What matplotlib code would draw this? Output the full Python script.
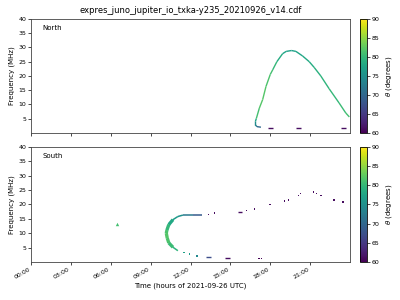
import numpy as np
import matplotlib
matplotlib.use('Agg')
import matplotlib.pyplot as plt
from matplotlib.collections import LineCollection
from matplotlib.cm import ScalarMappable
from matplotlib.colors import Normalize

# time in hours of the day, frequency in MHz, theta in degrees
north_hours = [17.30, 17.00, 16.88, 16.88, 16.95, 17.18, 17.43, 17.68, 18.00, 18.18, 18.50,
               18.93, 19.20, 19.60, 19.93, 20.43, 20.93, 21.30, 21.80, 22.43, 23.18, 23.68, 23.95]
north_freq = [2.0, 2.2, 2.8, 4.0, 5.0, 8.7, 11.7, 16.3, 20.5, 22.1, 25.0,
              27.8, 28.6, 28.9, 28.6, 27.0, 25.0, 23.0, 20.0, 15.5, 10.5, 7.0, 5.6]
north_theta = [69, 71, 74, 75, 80, 82, 82, 82, 81, 81, 79,
               78, 77, 77, 77, 78, 78, 79, 79, 80, 80, 81, 81]

north_dash_start = [17.80, 19.93, 23.35]
north_dash_end = [18.18, 20.30, 23.73]
north_dash_freq = [1.75, 1.75, 1.75]
north_dash_theta = [61, 61, 61]

south_hours = [12.88, 12.20, 11.43, 11.05, 10.68, 10.37, 10.22, 10.18, 10.25, 10.37, 10.68, 11.05]
south_freq = [16.3, 16.3, 16.3, 15.8, 14.7, 13.0, 11.0, 10.0, 8.3, 6.6, 5.1, 3.9]
south_theta = [67, 70, 74, 76, 77, 79, 81, 82, 82, 81, 80, 79]

south_dot_hours = [11.50, 11.90, 12.50, 13.37, 13.82, 16.22, 16.83, 17.98, 19.05, 19.38, 20.13,
                   20.28, 21.23, 21.48, 21.83, 22.80, 23.48, 17.15, 17.35]
south_dot_freq = [3.2, 2.7, 2.1, 16.5, 17.0, 17.8, 18.4, 20.1, 21.2, 21.5, 23.2,
                  23.7, 24.3, 23.9, 23.2, 21.5, 20.9, 1.1, 1.1]
south_dot_theta = [77, 76, 74, 61, 61, 61, 61, 61, 61, 61, 61,
                   61, 61, 61, 61, 61, 61, 60, 60]

south_dash_start = [13.20, 14.60, 15.60]
south_dash_end = [13.55, 15.00, 15.85]
south_dash_freq = [1.8, 1.4, 17.5]
south_dash_theta = [67, 61, 61]

south_tri_hours = [6.47]
south_tri_freq = [13.3]
south_tri_theta = [81]

xtick_hours = [0, 3, 6, 9, 12, 15, 18, 21]
xtick_labels = ['00:00', '03:00', '06:00', '09:00', '12:00', '15:00', '18:00', '21:00']

cmap = plt.get_cmap('viridis')
norm = Normalize(vmin=60, vmax=90)

fig = plt.figure(figsize=(4, 3), dpi=100)
ax1 = fig.add_axes([0.0775, 0.557, 0.7975, 0.38])
ax2 = fig.add_axes([0.0775, 0.127, 0.7975, 0.383])
cax1 = fig.add_axes([0.9, 0.557, 0.0175, 0.38])
cax2 = fig.add_axes([0.9, 0.127, 0.0175, 0.383])


def draw_curve(ax, h, f, th, lw):
    pts = np.column_stack([h, f])
    segs = np.stack([pts[:-1], pts[1:]], axis=1)
    mid = (np.array(th[:-1]) + np.array(th[1:])) / 2
    lc = LineCollection(segs, colors=cmap(norm(mid)), linewidths=lw, capstyle='butt')
    ax.add_collection(lc)


draw_curve(ax1, north_hours, north_freq, north_theta, 1.0)
ax1.hlines(north_dash_freq, north_dash_start, north_dash_end,
           colors=cmap(norm(north_dash_theta)), lw=1.0)

draw_curve(ax2, south_hours, south_freq, south_theta, 1.1)
# the near-vertical part of the southern arc is wider in the original
draw_curve(ax2, south_hours[4:11], south_freq[4:11], south_theta[4:11], 2.4)
ax2.scatter(south_dot_hours, south_dot_freq, c=south_dot_theta, cmap=cmap, norm=norm,
            marker='s', s=0.9, linewidths=0)
ax2.hlines(south_dash_freq, south_dash_start, south_dash_end,
           colors=cmap(norm(south_dash_theta)), lw=1.0)
ax2.scatter(south_tri_hours, south_tri_freq, c=south_tri_theta, cmap=cmap, norm=norm,
            marker='^', s=6, linewidths=0)

for ax, name in [(ax1, 'North'), (ax2, 'South')]:
    ax.set_xlim(0, 24)
    ax.set_ylim(0, 40)
    ax.set_yticks([5, 10, 15, 20, 25, 30, 35, 40])
    ax.set_xticks(xtick_hours)
    ax.tick_params(labelsize=4.5, length=2, width=0.5, pad=1.5)
    ax.set_ylabel('Frequency (MHz)', fontsize=5, labelpad=2)
    ax.text(0.035, 0.9, name, transform=ax.transAxes, fontsize=5)
    for s in ax.spines.values():
        s.set_linewidth(0.6)
        s.set_color('#444444')

ax1.set_xticklabels([])
ax2.set_xticklabels(xtick_labels, rotation=30, ha='right')
ax2.set_xlabel('Time (hours of 2021-09-26 UTC)', fontsize=5, labelpad=2)
ax1.set_title('expres_juno_jupiter_io_txka-y235_20210926_v14.cdf', fontsize=6, pad=4)

for cax in [cax1, cax2]:
    cb = fig.colorbar(ScalarMappable(norm=norm, cmap=cmap), cax=cax)
    cb.set_ticks([60, 65, 70, 75, 80, 85, 90])
    cb.ax.tick_params(labelsize=4.5, length=2, width=0.5, pad=1.5)
    cb.outline.set_linewidth(0.6)
    cb.set_label(r'$\theta$ (degrees)', fontsize=5, labelpad=3)

fig.savefig('out.png', dpi=100)
